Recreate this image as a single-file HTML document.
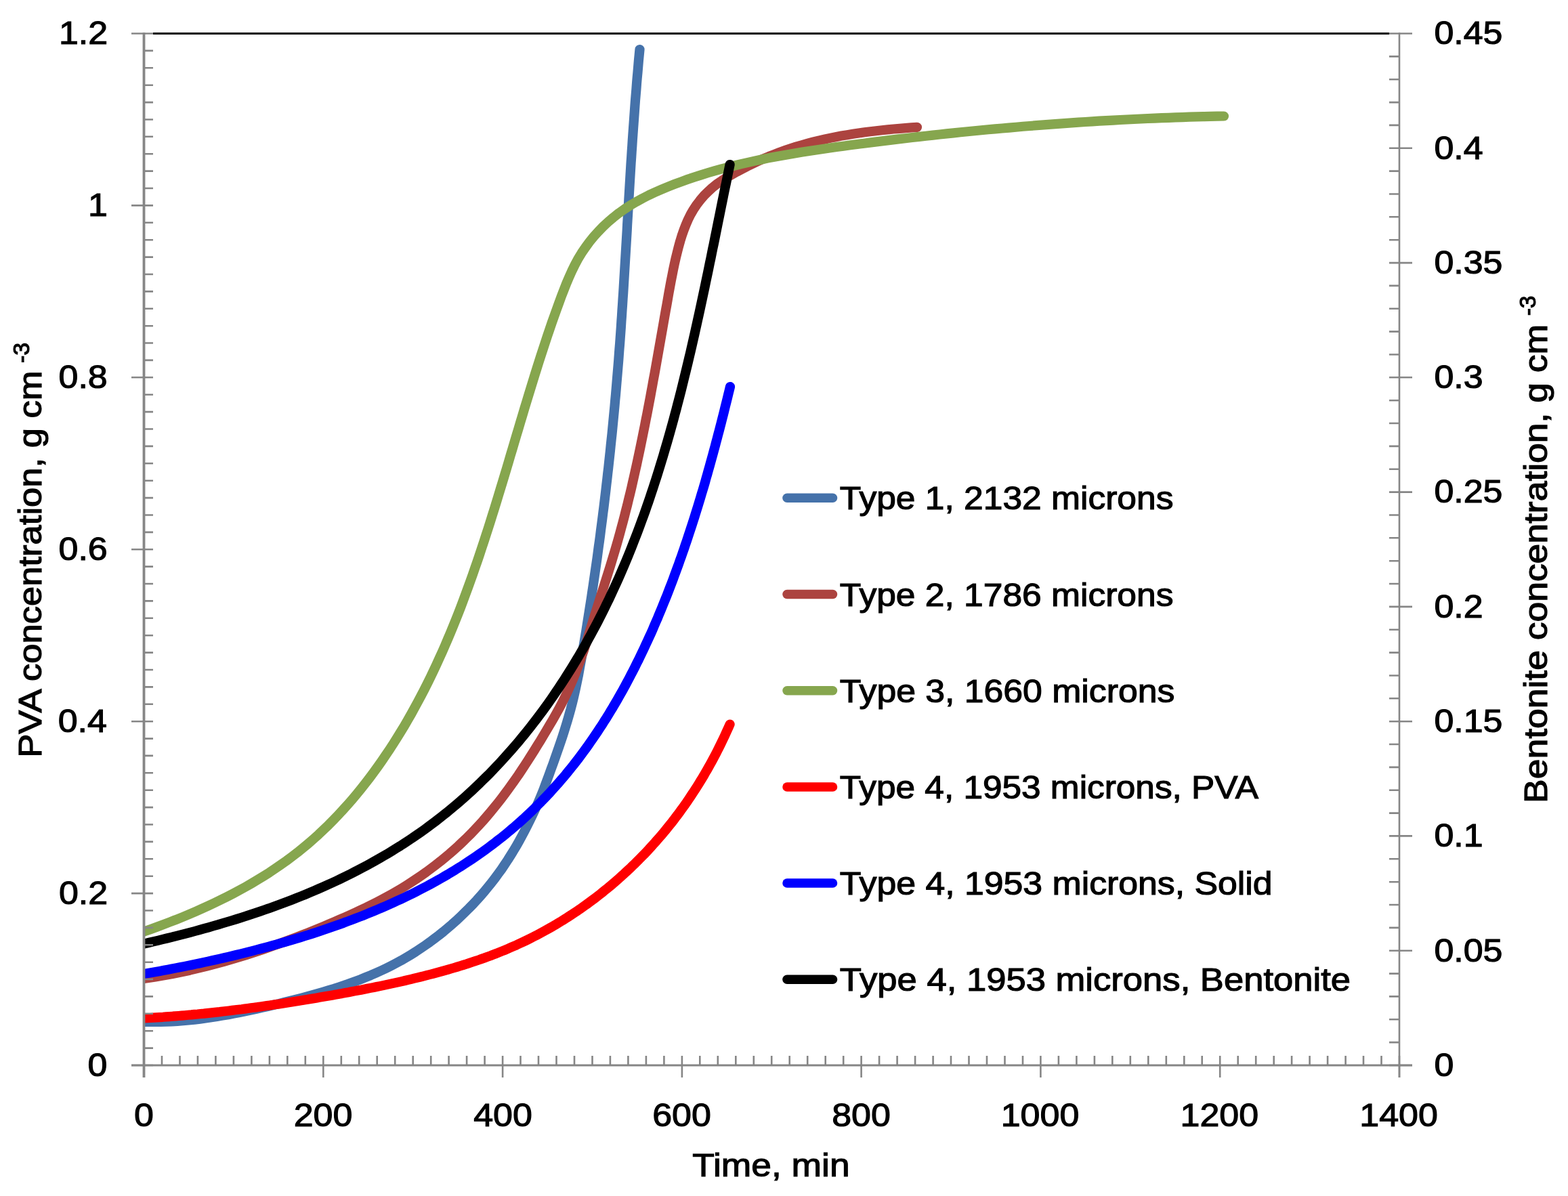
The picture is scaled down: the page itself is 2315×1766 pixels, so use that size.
<!DOCTYPE html><html><head><meta charset="utf-8"><title>PVA and Bentonite concentration vs time</title>
<style>html,body{margin:0;padding:0;background:#fff;overflow:hidden;}svg{display:block;}text{font-family:"Liberation Sans",Arial,sans-serif;fill:#000;stroke:#000;stroke-width:1.20px;}</style></head><body>
<div id="c"><svg width="2315" height="1766" viewBox="0 0 2315 1766">
<rect width="2315" height="1766" fill="#fff"/>
<defs><clipPath id="pa"><rect x="212.5" y="0" width="2102.5" height="1766"/></clipPath></defs>
<g clip-path="url(#pa)" fill="none" stroke-width="14.2" stroke-linecap="round" stroke-linejoin="round">
<path d="M212.5,1508.8L220.7,1509.0L228.9,1509.0L237.2,1508.9L245.4,1508.7L253.7,1508.3L262.0,1507.8L270.3,1507.2L278.6,1506.4L286.9,1505.6L295.3,1504.6L303.6,1503.5L312.0,1502.3L320.3,1501.0L328.6,1499.6L337.0,1498.2L345.3,1496.6L353.7,1495.0L362.0,1493.3L370.3,1491.6L378.6,1489.8L386.9,1487.9L395.2,1486.0L403.4,1484.0L411.7,1482.1L419.9,1480.0L428.1,1478.0L436.3,1475.9L444.4,1473.8L452.6,1471.6L460.7,1469.4L468.7,1467.2L476.8,1464.8L484.8,1462.4L492.7,1460.0L500.6,1457.4L508.5,1454.8L516.4,1452.0L524.2,1449.2L531.9,1446.3L539.6,1443.2L547.3,1440.1L554.9,1436.8L562.4,1433.4L569.9,1429.8L577.4,1426.1L584.7,1422.3L592.1,1418.3L599.3,1414.1L606.5,1409.8L613.6,1405.4L620.7,1400.7L627.6,1396.0L634.5,1391.1L641.3,1386.0L648.1,1380.9L654.7,1375.6L661.2,1370.1L667.7,1364.6L674.0,1358.9L680.2,1353.1L686.3,1347.2L692.3,1341.3L698.2,1335.2L704.0,1329.0L709.6,1322.7L715.1,1316.3L720.5,1309.8L725.8,1303.3L730.9,1296.6L735.8,1289.9L740.7,1283.2L745.3,1276.3L749.9,1269.4L754.3,1262.4L758.6,1255.4L762.8,1248.3L766.8,1241.2L770.8,1233.9L774.6,1226.7L778.4,1219.3L782.1,1211.9L785.7,1204.5L789.2,1197.0L792.6,1189.5L795.9,1181.9L799.1,1174.2L802.2,1166.6L805.1,1158.8L808.0,1151.1L810.9,1143.3L813.7,1135.4L816.6,1127.6L819.4,1119.6L822.2,1111.7L825.0,1103.7L827.7,1095.7L830.4,1087.7L833.0,1079.6L835.5,1071.5L838.0,1063.4L840.3,1055.3L842.6,1047.1L844.7,1038.9L846.7,1030.8L848.6,1022.5L850.4,1014.3L852.1,1006.1L853.8,997.9L855.3,989.6L856.8,981.3L858.3,973.1L859.7,964.8L861.1,956.5L862.5,948.3L863.9,940.0L865.3,931.7L866.6,923.4L867.9,915.1L869.2,906.9L870.5,898.6L871.8,890.3L873.1,882.0L874.3,873.7L875.6,865.4L876.8,857.1L878.0,848.8L879.2,840.5L880.4,832.2L881.6,823.9L882.7,815.6L883.8,807.3L885.0,799.0L886.1,790.7L887.1,782.4L888.2,774.1L889.3,765.8L890.3,757.5L891.4,749.2L892.4,740.9L893.4,732.5L894.4,724.2L895.3,715.9L896.3,707.6L897.2,699.3L898.2,691.0L899.1,682.6L900.0,674.3L900.9,666.0L901.7,657.7L902.6,649.3L903.5,641.0L904.3,632.7L905.1,624.3L905.9,616.0L906.7,607.7L907.5,599.3L908.2,591.0L909.0,582.7L909.7,574.3L910.4,566.0L911.1,557.7L911.8,549.3L912.5,541.0L913.2,532.6L913.8,524.3L914.4,516.0L915.1,507.6L915.7,499.3L916.3,490.9L916.9,482.6L917.4,474.2L918.0,465.9L918.5,457.5L919.1,449.2L919.6,440.8L920.2,432.5L920.7,424.1L921.2,415.8L921.7,407.4L922.2,399.1L922.7,390.7L923.2,382.4L923.7,374.0L924.2,365.7L924.7,357.3L925.2,349.0L925.7,340.6L926.1,332.2L926.6,323.9L927.1,315.5L927.6,307.2L928.1,298.8L928.6,290.4L929.1,282.1L929.6,273.7L930.1,265.4L930.6,257.0L931.1,248.6L931.6,240.3L932.2,231.9L932.7,223.6L933.3,215.2L933.8,206.8L934.4,198.5L935.0,190.1L935.6,181.7L936.2,173.4L936.8,165.0L937.4,156.6L938.0,148.3L938.7,139.9L939.4,131.6L940.0,123.2L940.7,114.8L941.5,106.5L942.2,98.1L942.9,89.7L943.7,81.4L944.5,73.0" stroke="#4572AA"/>
<path d="M212.5,1445.0L221.0,1443.8L229.4,1442.5L237.9,1441.1L246.4,1439.6L254.8,1438.0L263.3,1436.3L271.7,1434.5L280.2,1432.7L288.6,1430.7L297.0,1428.7L305.4,1426.6L313.8,1424.4L322.2,1422.2L330.6,1419.9L339.0,1417.5L347.3,1415.0L355.7,1412.5L364.0,1409.9L372.3,1407.2L380.6,1404.5L388.8,1401.7L397.1,1398.8L405.3,1395.9L413.5,1393.0L421.7,1390.0L429.8,1386.9L437.9,1383.8L446.0,1380.7L454.1,1377.5L462.1,1374.3L470.1,1371.0L478.1,1367.7L486.1,1364.4L494.0,1361.0L501.8,1357.6L509.7,1354.2L517.5,1350.7L525.2,1347.1L533.0,1343.5L540.7,1339.9L548.3,1336.1L555.9,1332.2L563.5,1328.3L571.0,1324.3L578.5,1320.1L585.9,1315.9L593.3,1311.5L600.6,1307.0L607.9,1302.3L615.1,1297.5L622.3,1292.6L629.4,1287.6L636.4,1282.4L643.4,1277.1L650.3,1271.7L657.0,1266.2L663.7,1260.6L670.3,1254.8L676.8,1249.0L683.1,1243.0L689.3,1237.0L695.5,1230.9L701.4,1224.7L707.3,1218.4L713.1,1212.0L718.7,1205.5L724.3,1198.9L729.7,1192.3L735.1,1185.6L740.4,1178.9L745.5,1172.0L750.6,1165.1L755.6,1158.2L760.5,1151.2L765.4,1144.2L770.2,1137.0L774.9,1129.9L779.6,1122.7L784.2,1115.4L788.8,1108.1L793.3,1100.8L797.9,1093.4L802.4,1085.9L806.9,1078.4L811.3,1070.9L815.8,1063.3L820.1,1055.7L824.4,1048.1L828.5,1040.4L832.4,1032.6L836.2,1024.9L839.8,1017.1L843.3,1009.2L846.7,1001.4L849.9,993.4L852.9,985.5L855.9,977.5L858.7,969.5L861.5,961.5L864.1,953.4L866.7,945.4L869.2,937.2L871.7,929.1L874.2,921.0L876.7,912.8L879.3,904.6L881.9,896.3L884.5,888.1L887.1,879.8L889.8,871.5L892.4,863.2L895.0,854.9L897.6,846.6L900.2,838.3L902.8,829.9L905.3,821.5L907.8,813.2L910.3,804.8L912.7,796.4L915.0,788.0L917.3,779.5L919.6,771.1L921.8,762.7L923.9,754.3L926.1,745.9L928.1,737.4L930.2,729.0L932.2,720.6L934.1,712.1L936.0,703.7L937.9,695.3L939.8,686.9L941.6,678.4L943.4,670.0L945.2,661.6L946.9,653.2L948.6,644.8L950.3,636.4L952.0,628.1L953.6,619.7L955.3,611.3L956.9,602.9L958.5,594.5L960.1,586.1L961.6,577.7L963.2,569.2L964.7,560.8L966.3,552.4L967.8,543.9L969.3,535.5L970.8,527.0L972.3,518.5L973.8,510.1L975.3,501.5L976.8,493.0L978.3,484.5L979.8,475.9L981.3,467.3L982.8,458.7L984.4,450.1L985.9,441.5L987.4,432.8L989.0,424.1L990.6,415.4L992.3,406.8L994.0,398.2L995.8,389.6L997.7,381.1L999.8,372.6L1001.9,364.3L1004.2,356.0L1006.7,347.9L1009.5,339.9L1012.5,332.1L1015.8,324.4L1019.5,316.9L1023.7,309.6L1028.4,302.5L1033.6,295.7L1039.2,289.1L1045.3,282.9L1051.8,277.0L1058.6,271.7L1065.7,266.8L1072.9,262.2L1080.4,257.8L1087.9,253.6L1095.5,249.6L1103.2,245.6L1111.0,241.8L1118.9,238.1L1126.8,234.6L1134.8,231.2L1142.9,228.0L1150.9,224.9L1159.1,222.0L1167.3,219.2L1175.5,216.6L1183.7,214.2L1192.0,211.9L1200.3,209.7L1208.7,207.6L1217.1,205.7L1225.5,203.9L1233.9,202.2L1242.4,200.6L1250.9,199.2L1259.4,197.8L1267.9,196.5L1276.5,195.3L1285.0,194.2L1293.6,193.2L1302.2,192.2L1310.8,191.4L1319.5,190.5L1328.1,189.8L1336.7,189.1L1345.4,188.4L1354.0,187.8" stroke="#AC433F"/>
<path d="M212.5,1375.6L222.1,1372.2L231.6,1368.8L241.2,1365.2L250.7,1361.5L260.3,1357.8L269.8,1354.0L279.3,1350.0L288.7,1346.0L298.1,1341.8L307.5,1337.6L316.8,1333.2L326.0,1328.7L335.2,1324.1L344.4,1319.4L353.4,1314.6L362.4,1309.6L371.3,1304.5L380.2,1299.2L388.9,1293.9L397.6,1288.4L406.1,1282.7L414.5,1276.9L422.9,1271.0L431.1,1264.9L439.2,1258.7L447.1,1252.3L455.0,1245.7L462.7,1239.0L470.3,1232.2L477.7,1225.2L485.1,1218.1L492.3,1210.8L499.4,1203.4L506.3,1195.9L513.2,1188.3L519.9,1180.6L526.5,1172.7L533.0,1164.8L539.4,1156.7L545.6,1148.6L551.8,1140.3L557.8,1132.0L563.7,1123.6L569.5,1115.1L575.2,1106.6L580.8,1098.0L586.3,1089.3L591.7,1080.6L597.0,1071.8L602.1,1063.0L607.2,1054.1L612.1,1045.1L617.0,1036.2L621.8,1027.1L626.5,1018.1L631.1,1009.0L635.6,999.8L640.0,990.6L644.3,981.4L648.6,972.1L652.8,962.8L656.9,953.5L660.9,944.1L664.9,934.7L668.8,925.3L672.6,915.8L676.4,906.3L680.1,896.8L683.7,887.2L687.3,877.6L690.8,868.0L694.3,858.4L697.8,848.7L701.1,839.0L704.5,829.3L707.8,819.6L711.0,809.9L714.3,800.1L717.4,790.3L720.6,780.6L723.7,770.8L726.8,760.9L729.9,751.1L732.9,741.3L735.9,731.5L738.9,721.6L741.9,711.8L744.9,701.9L747.9,692.0L750.8,682.2L753.7,672.3L756.7,662.4L759.6,652.6L762.5,642.7L765.5,632.9L768.4,623.0L771.4,613.2L774.3,603.3L777.3,593.5L780.3,583.7L783.3,573.9L786.3,564.1L789.3,554.3L792.4,544.5L795.5,534.7L798.6,525.0L801.8,515.2L805.0,505.5L808.2,495.8L811.5,486.1L814.8,476.4L818.2,466.8L821.7,457.1L825.2,447.5L828.7,437.9L832.4,428.4L836.1,418.9L840.1,409.5L844.3,400.2L848.7,391.1L853.5,382.2L858.7,373.6L864.4,365.2L870.3,357.1L876.7,349.2L883.5,341.7L890.5,334.5L897.9,327.6L905.7,321.0L913.7,314.7L922.0,308.8L930.6,303.2L939.4,298.0L948.5,293.0L957.7,288.3L967.1,283.9L976.6,279.7L986.2,275.7L995.9,271.9L1005.7,268.3L1015.4,264.8L1025.2,261.5L1035.1,258.4L1044.9,255.3L1054.8,252.4L1064.6,249.7L1074.6,247.0L1084.5,244.5L1094.4,242.1L1104.4,239.8L1114.3,237.6L1124.3,235.5L1134.3,233.4L1144.4,231.5L1154.4,229.7L1164.4,227.9L1174.5,226.2L1184.6,224.5L1194.6,222.9L1204.7,221.4L1214.8,219.9L1224.9,218.5L1235.1,217.0L1245.2,215.7L1255.3,214.3L1265.5,213.0L1275.6,211.7L1285.8,210.4L1295.9,209.1L1306.1,207.9L1316.2,206.6L1326.4,205.4L1336.6,204.2L1346.8,203.0L1356.9,201.9L1367.1,200.7L1377.3,199.6L1387.5,198.5L1397.7,197.4L1407.9,196.4L1418.1,195.3L1428.4,194.3L1438.6,193.3L1448.8,192.3L1459.0,191.3L1469.2,190.4L1479.5,189.5L1489.7,188.6L1499.9,187.7L1510.2,186.8L1520.4,186.0L1530.6,185.2L1540.9,184.4L1551.1,183.6L1561.3,182.8L1571.6,182.1L1581.8,181.4L1592.1,180.7L1602.3,180.0L1612.6,179.4L1622.8,178.7L1633.0,178.1L1643.3,177.6L1653.5,177.0L1663.8,176.5L1674.0,176.0L1684.2,175.5L1694.5,175.0L1704.7,174.6L1715.0,174.2L1725.2,173.8L1735.4,173.4L1745.7,173.1L1755.9,172.7L1766.1,172.4L1776.3,172.2L1786.6,171.9L1796.8,171.7L1807.0,171.5" stroke="#86A64E"/>
<path d="M212.5,1503.5L217.2,1503.2L221.8,1503.0L226.5,1502.7L231.2,1502.4L235.8,1502.1L240.5,1501.8L245.1,1501.4L249.8,1501.1L254.5,1500.7L259.1,1500.4L263.8,1500.0L268.4,1499.6L273.1,1499.2L277.7,1498.8L282.4,1498.4L287.0,1497.9L291.7,1497.5L296.3,1497.0L301.0,1496.6L305.6,1496.1L310.3,1495.6L314.9,1495.1L319.5,1494.6L324.2,1494.1L328.8,1493.5L333.5,1493.0L338.1,1492.5L342.7,1491.9L347.4,1491.3L352.0,1490.7L356.7,1490.2L361.3,1489.6L365.9,1489.0L370.6,1488.3L375.2,1487.7L379.9,1487.1L384.5,1486.4L389.1,1485.8L393.8,1485.1L398.4,1484.4L403.0,1483.8L407.7,1483.1L412.3,1482.4L417.0,1481.7L421.6,1481.0L426.2,1480.3L430.9,1479.5L435.5,1478.8L440.2,1478.0L444.8,1477.3L449.4,1476.5L454.1,1475.8L458.7,1475.0L463.4,1474.2L468.0,1473.4L472.7,1472.6L477.3,1471.8L481.9,1471.0L486.6,1470.2L491.2,1469.4L495.9,1468.6L500.5,1467.7L505.2,1466.9L509.8,1466.0L514.5,1465.2L519.1,1464.3L523.8,1463.4L528.4,1462.5L533.1,1461.7L537.7,1460.8L542.4,1459.8L547.0,1458.9L551.7,1458.0L556.3,1457.0L560.9,1456.1L565.6,1455.1L570.2,1454.1L574.8,1453.1L579.4,1452.1L584.1,1451.1L588.7,1450.1L593.3,1449.1L597.9,1448.0L602.5,1446.9L607.1,1445.8L611.7,1444.7L616.2,1443.6L620.8,1442.5L625.4,1441.4L630.0,1440.2L634.5,1439.0L639.1,1437.8L643.6,1436.6L648.1,1435.4L652.7,1434.1L657.2,1432.9L661.7,1431.6L666.2,1430.3L670.7,1429.0L675.2,1427.6L679.6,1426.3L684.1,1424.9L688.6,1423.5L693.0,1422.0L697.4,1420.6L701.9,1419.1L706.3,1417.6L710.7,1416.0L715.1,1414.5L719.4,1412.9L723.8,1411.3L728.1,1409.6L732.5,1408.0L736.8,1406.2L741.1,1404.5L745.4,1402.8L749.7,1401.0L754.0,1399.1L758.2,1397.3L762.5,1395.4L766.7,1393.4L770.9,1391.5L775.1,1389.5L779.3,1387.5L783.5,1385.4L787.6,1383.3L791.8,1381.2L795.9,1379.0L800.0,1376.8L804.1,1374.6L808.2,1372.3L812.2,1370.0L816.3,1367.7L820.3,1365.3L824.3,1362.9L828.3,1360.5L832.2,1358.1L836.2,1355.6L840.1,1353.0L844.0,1350.5L847.9,1347.9L851.8,1345.3L855.7,1342.7L859.5,1340.0L863.3,1337.3L867.1,1334.6L870.9,1331.8L874.6,1329.0L878.4,1326.2L882.1,1323.4L885.8,1320.5L889.4,1317.6L893.1,1314.6L896.7,1311.7L900.3,1308.7L903.9,1305.7L907.5,1302.6L911.0,1299.6L914.5,1296.5L918.0,1293.3L921.5,1290.2L924.9,1287.0L928.4,1283.8L931.8,1280.6L935.1,1277.3L938.5,1274.1L941.8,1270.8L945.1,1267.4L948.4,1264.1L951.7,1260.7L954.9,1257.3L958.1,1253.9L961.3,1250.4L964.4,1246.9L967.5,1243.5L970.6,1239.9L973.7,1236.4L976.8,1232.8L979.8,1229.2L982.8,1225.6L985.7,1222.0L988.7,1218.3L991.6,1214.7L994.5,1211.0L997.3,1207.2L1000.2,1203.5L1003.0,1199.7L1005.7,1195.9L1008.5,1192.1L1011.2,1188.3L1013.9,1184.5L1016.5,1180.6L1019.1,1176.7L1021.7,1172.8L1024.3,1168.9L1026.9,1164.9L1029.4,1161.0L1031.9,1157.0L1034.3,1153.0L1036.8,1149.0L1039.2,1145.0L1041.5,1140.9L1043.9,1136.8L1046.2,1132.7L1048.5,1128.6L1050.8,1124.5L1053.0,1120.4L1055.2,1116.2L1057.4,1112.1L1059.5,1107.9L1061.6,1103.7L1063.7,1099.5L1065.8,1095.2L1067.8,1091.0L1069.9,1086.7L1071.8,1082.4L1073.8,1078.1L1075.7,1073.8L1077.6,1069.5" stroke="#FF0000"/>
<path d="M212.5,1438.0L218.4,1437.0L224.3,1436.0L230.1,1434.9L236.0,1433.9L241.9,1432.8L247.9,1431.7L253.8,1430.6L259.7,1429.4L265.6,1428.3L271.5,1427.1L277.5,1425.9L283.4,1424.7L289.4,1423.4L295.3,1422.2L301.3,1420.9L307.2,1419.6L313.2,1418.3L319.1,1417.0L325.1,1415.6L331.0,1414.3L337.0,1412.9L342.9,1411.5L348.9,1410.0L354.8,1408.6L360.8,1407.1L366.7,1405.6L372.7,1404.1L378.6,1402.5L384.5,1401.0L390.5,1399.4L396.4,1397.8L402.3,1396.1L408.2,1394.5L414.1,1392.8L420.0,1391.1L425.9,1389.4L431.8,1387.6L437.7,1385.9L443.6,1384.1L449.4,1382.3L455.3,1380.4L461.1,1378.6L467.0,1376.7L472.8,1374.7L478.6,1372.8L484.4,1370.8L490.2,1368.8L496.0,1366.8L501.8,1364.7L507.5,1362.7L513.2,1360.5L519.0,1358.4L524.7,1356.2L530.4,1354.0L536.1,1351.8L541.7,1349.5L547.4,1347.2L553.0,1344.9L558.6,1342.5L564.2,1340.1L569.8,1337.7L575.3,1335.3L580.9,1332.8L586.4,1330.2L591.9,1327.7L597.4,1325.1L602.8,1322.4L608.3,1319.8L613.7,1317.1L619.1,1314.3L624.4,1311.5L629.8,1308.7L635.1,1305.9L640.4,1303.0L645.7,1300.0L650.9,1297.1L656.2,1294.0L661.4,1291.0L666.5,1287.9L671.7,1284.8L676.8,1281.6L681.9,1278.4L686.9,1275.1L692.0,1271.8L697.0,1268.5L702.0,1265.1L706.9,1261.7L711.8,1258.2L716.7,1254.7L721.6,1251.1L726.4,1247.5L731.2,1243.9L735.9,1240.2L740.7,1236.5L745.4,1232.7L750.0,1228.9L754.6,1225.0L759.2,1221.1L763.8,1217.1L768.3,1213.1L772.8,1209.1L777.2,1205.0L781.6,1200.8L786.0,1196.7L790.3,1192.4L794.6,1188.2L798.9,1183.9L803.1,1179.5L807.3,1175.2L811.4,1170.8L815.5,1166.3L819.5,1161.8L823.6,1157.3L827.5,1152.7L831.5,1148.1L835.4,1143.5L839.2,1138.8L843.0,1134.1L846.8,1129.4L850.5,1124.6L854.2,1119.8L857.8,1115.0L861.4,1110.1L865.0,1105.2L868.5,1100.3L872.0,1095.3L875.5,1090.3L878.9,1085.3L882.3,1080.2L885.6,1075.2L889.0,1070.1L892.2,1064.9L895.5,1059.8L898.7,1054.6L901.8,1049.4L905.0,1044.2L908.1,1038.9L911.2,1033.6L914.2,1028.3L917.2,1023.0L920.2,1017.7L923.1,1012.3L926.0,1006.9L928.9,1001.5L931.7,996.1L934.5,990.7L937.3,985.2L940.0,979.7L942.8,974.2L945.4,968.7L948.1,963.2L950.7,957.7L953.3,952.1L955.9,946.5L958.4,941.0L961.0,935.4L963.5,929.8L965.9,924.1L968.3,918.5L970.8,912.9L973.1,907.2L975.5,901.5L977.8,895.9L980.1,890.2L982.4,884.5L984.7,878.8L986.9,873.1L989.1,867.4L991.3,861.7L993.5,856.0L995.6,850.2L997.7,844.5L999.8,838.8L1001.9,833.1L1003.9,827.3L1006.0,821.6L1008.0,815.8L1010.0,810.1L1011.9,804.3L1013.9,798.6L1015.8,792.8L1017.7,787.1L1019.6,781.3L1021.5,775.5L1023.3,769.8L1025.2,764.0L1027.0,758.2L1028.8,752.4L1030.6,746.7L1032.3,740.9L1034.1,735.1L1035.8,729.3L1037.6,723.5L1039.3,717.7L1041.0,711.9L1042.6,706.0L1044.3,700.2L1045.9,694.4L1047.6,688.6L1049.2,682.7L1050.8,676.9L1052.4,671.1L1054.0,665.2L1055.6,659.4L1057.1,653.5L1058.7,647.7L1060.2,641.8L1061.8,635.9L1063.3,630.0L1064.8,624.2L1066.3,618.3L1067.8,612.4L1069.3,606.5L1070.7,600.6L1072.2,594.7L1073.7,588.8L1075.1,582.9L1076.6,576.9L1078.0,571.0" stroke="#0000FF"/>
<path d="M212.5,1393.6L219.3,1392.0L226.1,1390.4L232.9,1388.8L239.7,1387.2L246.5,1385.5L253.3,1383.8L260.2,1382.1L267.0,1380.4L273.9,1378.6L280.7,1376.8L287.6,1375.0L294.4,1373.1L301.3,1371.2L308.1,1369.3L315.0,1367.3L321.8,1365.4L328.7,1363.3L335.5,1361.3L342.4,1359.2L349.2,1357.1L356.1,1354.9L362.9,1352.8L369.7,1350.5L376.5,1348.3L383.3,1346.0L390.1,1343.6L396.9,1341.3L403.7,1338.8L410.4,1336.4L417.2,1333.9L423.9,1331.4L430.6,1328.8L437.3,1326.2L444.0,1323.5L450.7,1320.8L457.3,1318.0L463.9,1315.2L470.5,1312.4L477.1,1309.5L483.7,1306.6L490.2,1303.6L496.7,1300.6L503.2,1297.5L509.6,1294.3L516.1,1291.2L522.5,1287.9L528.8,1284.7L535.2,1281.3L541.5,1277.9L547.8,1274.5L554.0,1271.0L560.2,1267.5L566.4,1263.9L572.6,1260.3L578.7,1256.6L584.8,1252.8L590.8,1249.1L596.8,1245.2L602.7,1241.3L608.7,1237.4L614.5,1233.4L620.4,1229.3L626.2,1225.2L631.9,1221.0L637.6,1216.8L643.3,1212.5L648.9,1208.2L654.4,1203.8L660.0,1199.4L665.4,1194.9L670.8,1190.4L676.2,1185.8L681.6,1181.2L686.9,1176.5L692.1,1171.8L697.3,1167.0L702.4,1162.1L707.6,1157.3L712.6,1152.3L717.6,1147.4L722.6,1142.4L727.5,1137.3L732.4,1132.2L737.3,1127.0L742.1,1121.8L746.8,1116.6L751.5,1111.3L756.2,1106.0L760.8,1100.7L765.4,1095.3L769.9,1089.8L774.4,1084.4L778.8,1078.9L783.2,1073.3L787.6,1067.7L791.9,1062.1L796.1,1056.5L800.4,1050.8L804.5,1045.1L808.7,1039.3L812.8,1033.5L816.8,1027.7L820.8,1021.8L824.8,1015.9L828.7,1010.0L832.6,1004.1L836.4,998.1L840.2,992.1L844.0,986.1L847.7,980.0L851.3,974.0L855.0,967.8L858.6,961.7L862.1,955.6L865.6,949.4L869.0,943.2L872.5,936.9L875.8,930.7L879.2,924.4L882.5,918.1L885.7,911.8L888.9,905.5L892.1,899.1L895.2,892.7L898.3,886.4L901.3,879.9L904.3,873.5L907.3,867.1L910.3,860.6L913.2,854.1L916.0,847.6L918.8,841.1L921.6,834.6L924.4,828.0L927.1,821.5L929.8,814.9L932.4,808.3L935.0,801.7L937.6,795.0L940.2,788.4L942.7,781.7L945.2,775.1L947.6,768.4L950.1,761.7L952.5,755.0L954.8,748.2L957.2,741.5L959.5,734.7L961.7,728.0L964.0,721.2L966.2,714.4L968.4,707.6L970.6,700.8L972.7,694.0L974.8,687.2L976.9,680.3L979.0,673.5L981.0,666.6L983.0,659.8L985.0,652.9L987.0,646.0L989.0,639.1L990.9,632.2L992.8,625.3L994.7,618.4L996.5,611.5L998.4,604.6L1000.2,597.6L1002.0,590.7L1003.8,583.8L1005.6,576.8L1007.3,569.9L1009.0,562.9L1010.7,555.9L1012.4,549.0L1014.1,542.0L1015.8,535.0L1017.4,528.1L1019.1,521.1L1020.7,514.1L1022.3,507.1L1023.9,500.1L1025.5,493.1L1027.0,486.2L1028.6,479.2L1030.1,472.2L1031.7,465.2L1033.2,458.2L1034.7,451.2L1036.2,444.2L1037.7,437.2L1039.2,430.2L1040.7,423.2L1042.1,416.3L1043.6,409.3L1045.1,402.3L1046.5,395.3L1047.9,388.3L1049.4,381.4L1050.8,374.4L1052.2,367.4L1053.7,360.5L1055.1,353.5L1056.5,346.5L1057.9,339.6L1059.3,332.7L1060.7,325.7L1062.1,318.8L1063.5,311.9L1064.9,304.9L1066.3,298.0L1067.7,291.1L1069.1,284.2L1070.5,277.3L1072.0,270.5L1073.4,263.6L1074.8,256.7L1076.2,249.9L1077.6,243.0" stroke="#000000"/>
</g>
<g fill="none">
<line x1="226" y1="49.5" x2="2051" y2="49.5" stroke="#000" stroke-width="2.8"/>
<line x1="212.5" y1="48" x2="212.5" y2="1591" stroke="#868686" stroke-width="3.8"/>
<line x1="194" y1="1573.0" x2="2085" y2="1573.0" stroke="#868686" stroke-width="3"/>
<line x1="2066.0" y1="48" x2="2066.0" y2="1591" stroke="#868686" stroke-width="2.6"/>
<path d="M194,1573.0H226M212.5,1547.6H226M212.5,1522.2H226M212.5,1496.8H226M212.5,1471.4H226M212.5,1446.0H226M212.5,1420.7H226M212.5,1395.3H226M212.5,1369.9H226M212.5,1344.5H226M194,1319.1H226M212.5,1293.7H226M212.5,1268.3H226M212.5,1242.9H226M212.5,1217.5H226M212.5,1192.1H226M212.5,1166.7H226M212.5,1141.3H226M212.5,1115.9H226M212.5,1090.6H226M194,1065.2H226M212.5,1039.8H226M212.5,1014.4H226M212.5,989.0H226M212.5,963.6H226M212.5,938.2H226M212.5,912.8H226M212.5,887.4H226M212.5,862.0H226M212.5,836.6H226M194,811.2H226M212.5,785.9H226M212.5,760.5H226M212.5,735.1H226M212.5,709.7H226M212.5,684.3H226M212.5,658.9H226M212.5,633.5H226M212.5,608.1H226M212.5,582.7H226M194,557.3H226M212.5,531.9H226M212.5,506.5H226M212.5,481.2H226M212.5,455.8H226M212.5,430.4H226M212.5,405.0H226M212.5,379.6H226M212.5,354.2H226M212.5,328.8H226M194,303.4H226M212.5,278.0H226M212.5,252.6H226M212.5,227.2H226M212.5,201.8H226M212.5,176.5H226M212.5,151.1H226M212.5,125.7H226M212.5,100.3H226M212.5,74.9H226M194,49.5H226M2051,1573.0H2085M2051,1539.1H2066.0M2051,1505.3H2066.0M2051,1471.4H2066.0M2051,1437.6H2066.0M2051,1403.7H2085M2051,1369.9H2066.0M2051,1336.0H2066.0M2051,1302.2H2066.0M2051,1268.3H2066.0M2051,1234.4H2085M2051,1200.6H2066.0M2051,1166.7H2066.0M2051,1132.9H2066.0M2051,1099.0H2066.0M2051,1065.2H2085M2051,1031.3H2066.0M2051,997.5H2066.0M2051,963.6H2066.0M2051,929.7H2066.0M2051,895.9H2085M2051,862.0H2066.0M2051,828.2H2066.0M2051,794.3H2066.0M2051,760.5H2066.0M2051,726.6H2085M2051,692.8H2066.0M2051,658.9H2066.0M2051,625.0H2066.0M2051,591.2H2066.0M2051,557.3H2085M2051,523.5H2066.0M2051,489.6H2066.0M2051,455.8H2066.0M2051,421.9H2066.0M2051,388.1H2085M2051,354.2H2066.0M2051,320.3H2066.0M2051,286.5H2066.0M2051,252.6H2066.0M2051,218.8H2085M2051,184.9H2066.0M2051,151.1H2066.0M2051,117.2H2066.0M2051,83.4H2066.0M2051,49.5H2085M212.5,1559V1591M239.0,1559V1573.0M265.5,1559V1573.0M291.9,1559V1573.0M318.4,1559V1573.0M344.9,1559V1573.0M371.4,1559V1573.0M397.9,1559V1573.0M424.3,1559V1573.0M450.8,1559V1573.0M477.3,1559V1591M503.8,1559V1573.0M530.2,1559V1573.0M556.7,1559V1573.0M583.2,1559V1573.0M609.7,1559V1573.0M636.2,1559V1573.0M662.6,1559V1573.0M689.1,1559V1573.0M715.6,1559V1573.0M742.1,1559V1591M768.5,1559V1573.0M795.0,1559V1573.0M821.5,1559V1573.0M848.0,1559V1573.0M874.5,1559V1573.0M900.9,1559V1573.0M927.4,1559V1573.0M953.9,1559V1573.0M980.4,1559V1573.0M1006.9,1559V1591M1033.3,1559V1573.0M1059.8,1559V1573.0M1086.3,1559V1573.0M1112.8,1559V1573.0M1139.2,1559V1573.0M1165.7,1559V1573.0M1192.2,1559V1573.0M1218.7,1559V1573.0M1245.2,1559V1573.0M1271.6,1559V1591M1298.1,1559V1573.0M1324.6,1559V1573.0M1351.1,1559V1573.0M1377.6,1559V1573.0M1404.0,1559V1573.0M1430.5,1559V1573.0M1457.0,1559V1573.0M1483.5,1559V1573.0M1510.0,1559V1573.0M1536.4,1559V1591M1562.9,1559V1573.0M1589.4,1559V1573.0M1615.9,1559V1573.0M1642.3,1559V1573.0M1668.8,1559V1573.0M1695.3,1559V1573.0M1721.8,1559V1573.0M1748.3,1559V1573.0M1774.7,1559V1573.0M1801.2,1559V1591M1827.7,1559V1573.0M1854.2,1559V1573.0M1880.7,1559V1573.0M1907.1,1559V1573.0M1933.6,1559V1573.0M1960.1,1559V1573.0M1986.6,1559V1573.0M2013.0,1559V1573.0M2039.5,1559V1573.0M2066.0,1559V1591" stroke="#868686" stroke-width="2.6"/>
</g>
<text x="129.6" y="1588.6" font-size="49" textLength="28.9" lengthAdjust="spacingAndGlyphs">0</text>
<text x="86.9" y="1334.7" font-size="49" textLength="72.2" lengthAdjust="spacingAndGlyphs">0.2</text>
<text x="85.7" y="1080.8" font-size="49" textLength="72.2" lengthAdjust="spacingAndGlyphs">0.4</text>
<text x="86.5" y="826.8" font-size="49" textLength="72.2" lengthAdjust="spacingAndGlyphs">0.6</text>
<text x="86.5" y="572.9" font-size="49" textLength="72.2" lengthAdjust="spacingAndGlyphs">0.8</text>
<text x="130.1" y="319.0" font-size="49" textLength="28.9" lengthAdjust="spacingAndGlyphs">1</text>
<text x="86.9" y="65.1" font-size="49" textLength="72.2" lengthAdjust="spacingAndGlyphs">1.2</text>
<text x="2117.4" y="1588.8" font-size="49" textLength="28.9" lengthAdjust="spacingAndGlyphs">0</text>
<text x="2117.4" y="1419.5" font-size="49" textLength="101.1" lengthAdjust="spacingAndGlyphs">0.05</text>
<text x="2117.4" y="1250.2" font-size="49" textLength="72.2" lengthAdjust="spacingAndGlyphs">0.1</text>
<text x="2117.4" y="1081.0" font-size="49" textLength="101.1" lengthAdjust="spacingAndGlyphs">0.15</text>
<text x="2117.4" y="911.7" font-size="49" textLength="72.2" lengthAdjust="spacingAndGlyphs">0.2</text>
<text x="2117.4" y="742.4" font-size="49" textLength="101.1" lengthAdjust="spacingAndGlyphs">0.25</text>
<text x="2117.4" y="573.1" font-size="49" textLength="72.2" lengthAdjust="spacingAndGlyphs">0.3</text>
<text x="2117.4" y="403.9" font-size="49" textLength="101.1" lengthAdjust="spacingAndGlyphs">0.35</text>
<text x="2117.4" y="234.6" font-size="49" textLength="72.2" lengthAdjust="spacingAndGlyphs">0.4</text>
<text x="2117.4" y="65.3" font-size="49" textLength="101.1" lengthAdjust="spacingAndGlyphs">0.45</text>
<text x="198.0" y="1662.5" font-size="49" textLength="28.9" lengthAdjust="spacingAndGlyphs">0</text>
<text x="433.7" y="1662.5" font-size="49" textLength="86.7" lengthAdjust="spacingAndGlyphs">200</text>
<text x="699.2" y="1662.5" font-size="49" textLength="86.7" lengthAdjust="spacingAndGlyphs">400</text>
<text x="963.2" y="1662.5" font-size="49" textLength="86.7" lengthAdjust="spacingAndGlyphs">600</text>
<text x="1228.2" y="1662.5" font-size="49" textLength="86.7" lengthAdjust="spacingAndGlyphs">800</text>
<text x="1477.7" y="1662.5" font-size="49" textLength="115.6" lengthAdjust="spacingAndGlyphs">1000</text>
<text x="1742.5" y="1662.5" font-size="49" textLength="115.6" lengthAdjust="spacingAndGlyphs">1200</text>
<text x="2007.3" y="1662.5" font-size="49" textLength="115.6" lengthAdjust="spacingAndGlyphs">1400</text>
<text x="1022.3" y="1737.3" font-size="49" textLength="232.3" lengthAdjust="spacingAndGlyphs">Time, min</text>
<g transform="translate(60.5,1114.5) rotate(-90)"><text x="-4.3" y="0" font-size="49" textLength="571.3" lengthAdjust="spacingAndGlyphs">PVA concentration, g cm</text>
<text x="578.5" y="-17.5" font-size="34" textLength="30.0" lengthAdjust="spacingAndGlyphs">-3</text></g>
<g transform="translate(2284.3,1181.5) rotate(-90)"><text x="-4.4" y="0" font-size="49" textLength="706.9" lengthAdjust="spacingAndGlyphs">Bentonite concentration, g cm</text>
<text x="715.2" y="-17.5" font-size="34" textLength="29.8" lengthAdjust="spacingAndGlyphs">-3</text></g>
<line x1="1162" y1="735.3" x2="1229.5" y2="735.3" stroke="#4572AA" stroke-width="13.5" stroke-linecap="round"/>
<line x1="1162" y1="877.5" x2="1229.5" y2="877.5" stroke="#AC433F" stroke-width="13.5" stroke-linecap="round"/>
<line x1="1162" y1="1019.7" x2="1229.5" y2="1019.7" stroke="#86A64E" stroke-width="13.5" stroke-linecap="round"/>
<line x1="1162" y1="1161.9" x2="1229.5" y2="1161.9" stroke="#FF0000" stroke-width="13.5" stroke-linecap="round"/>
<line x1="1162" y1="1304.1" x2="1229.5" y2="1304.1" stroke="#0000FF" stroke-width="13.5" stroke-linecap="round"/>
<line x1="1162" y1="1446.3" x2="1229.5" y2="1446.3" stroke="#000000" stroke-width="13.5" stroke-linecap="round"/>
<text x="1239.8" y="752.3" font-size="49" textLength="492.6" lengthAdjust="spacingAndGlyphs">Type 1, 2132 microns</text>
<text x="1239.8" y="894.5" font-size="49" textLength="492.6" lengthAdjust="spacingAndGlyphs">Type 2, 1786 microns</text>
<text x="1239.8" y="1036.7" font-size="49" textLength="494.5" lengthAdjust="spacingAndGlyphs">Type 3, 1660 microns</text>
<text x="1239.8" y="1178.9" font-size="49" textLength="618.2" lengthAdjust="spacingAndGlyphs">Type 4, 1953 microns, PVA</text>
<text x="1239.8" y="1321.1" font-size="49" textLength="638.8" lengthAdjust="spacingAndGlyphs">Type 4, 1953 microns, Solid</text>
<text x="1239.8" y="1463.3" font-size="49" textLength="754.3" lengthAdjust="spacingAndGlyphs">Type 4, 1953 microns, Bentonite</text>
</svg></div></body></html>
